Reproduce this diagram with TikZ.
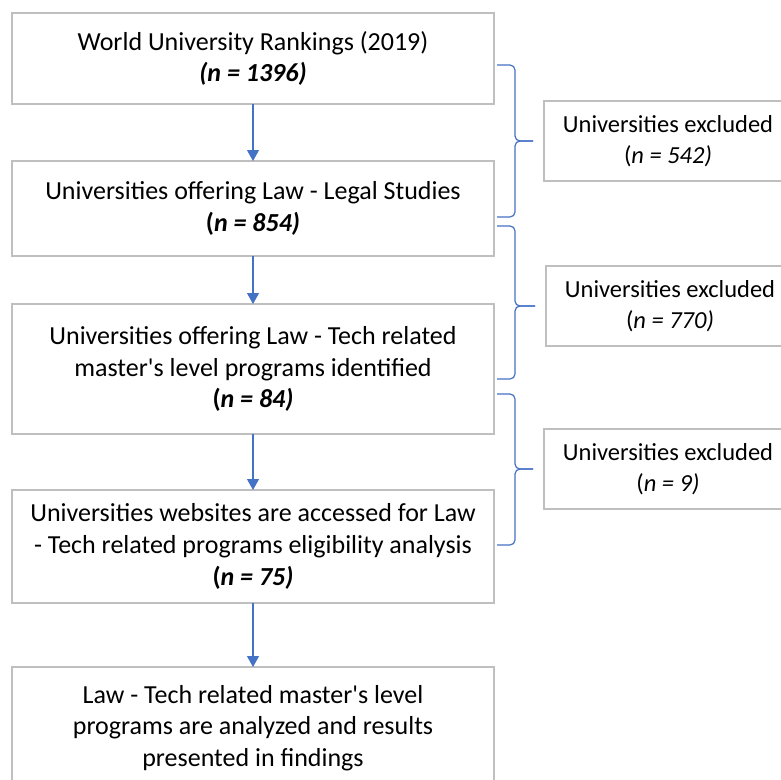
\documentclass[tikz,border=0pt]{standalone}
\usepackage{fontspec}
\setmainfont{Carlito}
\usepackage{xcolor}
\usetikzlibrary{arrows.meta,positioning}
\definecolor{wordblue}{HTML}{4472C4}
\definecolor{boxgray}{HTML}{BFBFBF}
% right-hand brace from y=#1 to y=#2, tip pointing at node #3
\newcommand{\exbrace}[3]{%
  \draw[brc] (497,#1) -- (515,#1) -- (515,0 |- #3.west) -- ([xshift=-11pt]#3.west);
  \draw[brc] (497,#2) -- (515,#2) -- (515,0 |- #3.west) -- ([xshift=-11pt]#3.west);}

\begin{document}
\begin{tikzpicture}[x=1pt, y=-1pt,
      box/.style={draw=boxgray, line width=1.3pt, align=center, minimum width=482pt,
                  inner sep=0pt, outer sep=0pt, font=\fontsize{26}{31.7}\selectfont},
      excl/.style={box, minimum width=248pt, minimum height=80pt,
                   font=\fontsize{24.5}{31.5}\selectfont},
      brc/.style={draw=wordblue, line width=1.2pt, rounded corners=5pt},
      flow/.style={draw=wordblue, line width=1.2pt, -{Triangle[width=12pt,length=11pt]}}]
    \useasboundingbox (0,0) rectangle (781,779);
    % main chain
    \node[box, minimum height=91pt] (wur) at (253,58.5)
      {World University Rankings (2019)\\\textbf{\textit{(n = 1396)}}};
    \node[box, minimum height=95pt, below=57pt of wur] (legal)
      {Universities offering Law - Legal Studies\\\textbf{(\textit{n = 854)}}};
    \node[box, minimum height=130pt, below=48pt of legal] (tech)
      {Universities offering Law - Tech related\\master\textquotesingle s level programs identified\\\textbf{(\textit{n = 84)}}};
    \node[box, minimum height=113pt, below=56pt of tech] (web)
      {Universities websites are accessed for Law\\- Tech related programs eligibility analysis\\\textbf{(\textit{n = 75)}}};
    \node[box, minimum height=122pt, below=64pt of web] (find)
      {Law - Tech related master\textquotesingle s level\\programs are analyzed and results\\presented in findings};
    \draw[flow] (wur) -- (legal);
    \draw[flow] (legal) -- (tech);
    \draw[flow] (tech) -- (web);
    \draw[flow] (web) -- (find);
    % exclusions
    \node[excl] (ex1) at (668,141) {Universities excluded\\(\textit{n = 542)}};
    \node[excl] (ex2) at (670,306) {Universities excluded\\(\textit{n = 770)}};
    \node[excl] (ex3) at (668,469) {Universities excluded\\(\textit{n = 9)}};
    \exbrace{65}{217}{ex1}
    \exbrace{226}{379}{ex2}
    \exbrace{394}{545}{ex3}
\end{tikzpicture}
\end{document}
